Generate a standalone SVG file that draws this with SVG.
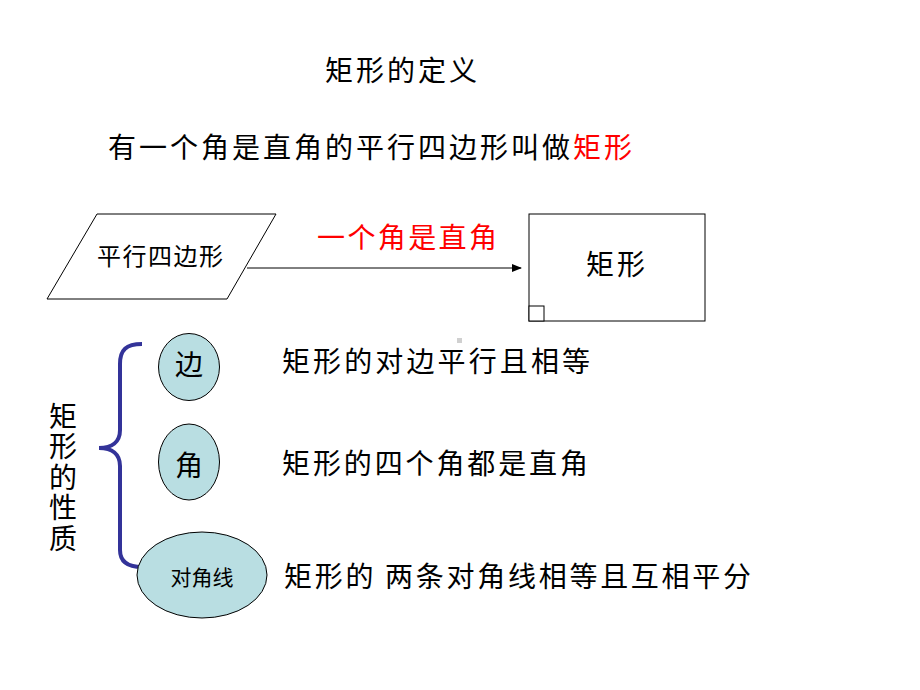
<svg xmlns="http://www.w3.org/2000/svg" width="920" height="690" viewBox="0 0 920 690">
<defs>
<style>
text{font-family:"Noto Sans CJK SC","Liberation Sans",sans-serif;fill:#000}
.red{fill:#ff0000}
.big{font-size:28px}
.ell{fill:#b9dee2;stroke:#000;stroke-width:1}
.box{fill:#fff;stroke:#000;stroke-width:1}
</style>
<marker id="arr" markerWidth="10" markerHeight="8" refX="9" refY="4" orient="auto" markerUnits="userSpaceOnUse">
<path d="M0,0 L10,4 L0,8 Z" fill="#000"/>
</marker>
</defs>
<rect width="920" height="690" fill="#fff"/>
<g id="title">
<text class="big" x="325" y="81" textLength="152" lengthAdjust="spacing">矩形的定义</text>
</g>
<g id="definition">
<text class="big" x="108" y="158" textLength="524" lengthAdjust="spacing">有一个角是直角的平行四边形叫做<tspan class="red">矩形</tspan></text>
</g>
<g id="connectors">
<line x1="247" y1="268" x2="521" y2="268" stroke="#000" stroke-width="1" marker-end="url(#arr)"/>
<path d="M142,344 C126,344 120,350 120,364 L120,430 C120,442 112,448 99,448 C112,448 120,454 120,466 L120,550 C120,562 128,567 142,567" fill="none" stroke="#333399" stroke-width="4"/>
</g>
<g id="edge-label">
<text class="big red" x="317" y="248" textLength="180" lengthAdjust="spacing">一个角是直角</text>
</g>
<g id="parallelogram">
<polygon class="box" points="97,214 276,214 227,299 47,299"/>
<text x="97" y="265" font-size="24" textLength="126" lengthAdjust="spacing">平行四边形</text>
</g>
<g id="rectangle">
<rect class="box" x="529" y="214" width="176" height="107"/>
<rect class="box" x="529" y="306" width="15" height="15"/>
<text class="big" x="586" y="275" textLength="59" lengthAdjust="spacing">矩形</text>
</g>
<rect x="457" y="338" width="5" height="5" fill="#d0d0d0"/>
<g id="properties-label">
<text class="big" x="63" y="402" style="writing-mode:vertical-rl" letter-spacing="2.5">矩形的性质</text>
</g>
<g id="node-side">
<ellipse class="ell" cx="189" cy="367" rx="30.5" ry="33.5"/>
<text class="big" x="189" y="375" text-anchor="middle">边</text>
</g>
<g id="node-angle">
<ellipse class="ell" cx="189" cy="462" rx="30.5" ry="38"/>
<text class="big" x="189" y="476" text-anchor="middle">角</text>
</g>
<g id="node-diagonal">
<ellipse class="ell" cx="202" cy="575" rx="65" ry="43"/>
<text x="202" y="585" font-size="21" text-anchor="middle">对角线</text>
</g>
<g id="property-texts">
<text class="big" x="282" y="372" textLength="308" lengthAdjust="spacing">矩形的对边平行且相等</text>
<text class="big" x="282" y="474" textLength="306" lengthAdjust="spacing">矩形的四个角都是直角</text>
<text class="big" x="284" y="587" textLength="467" lengthAdjust="spacing">矩形的 两条对角线相等且互相平分</text>
</g>
</svg>
